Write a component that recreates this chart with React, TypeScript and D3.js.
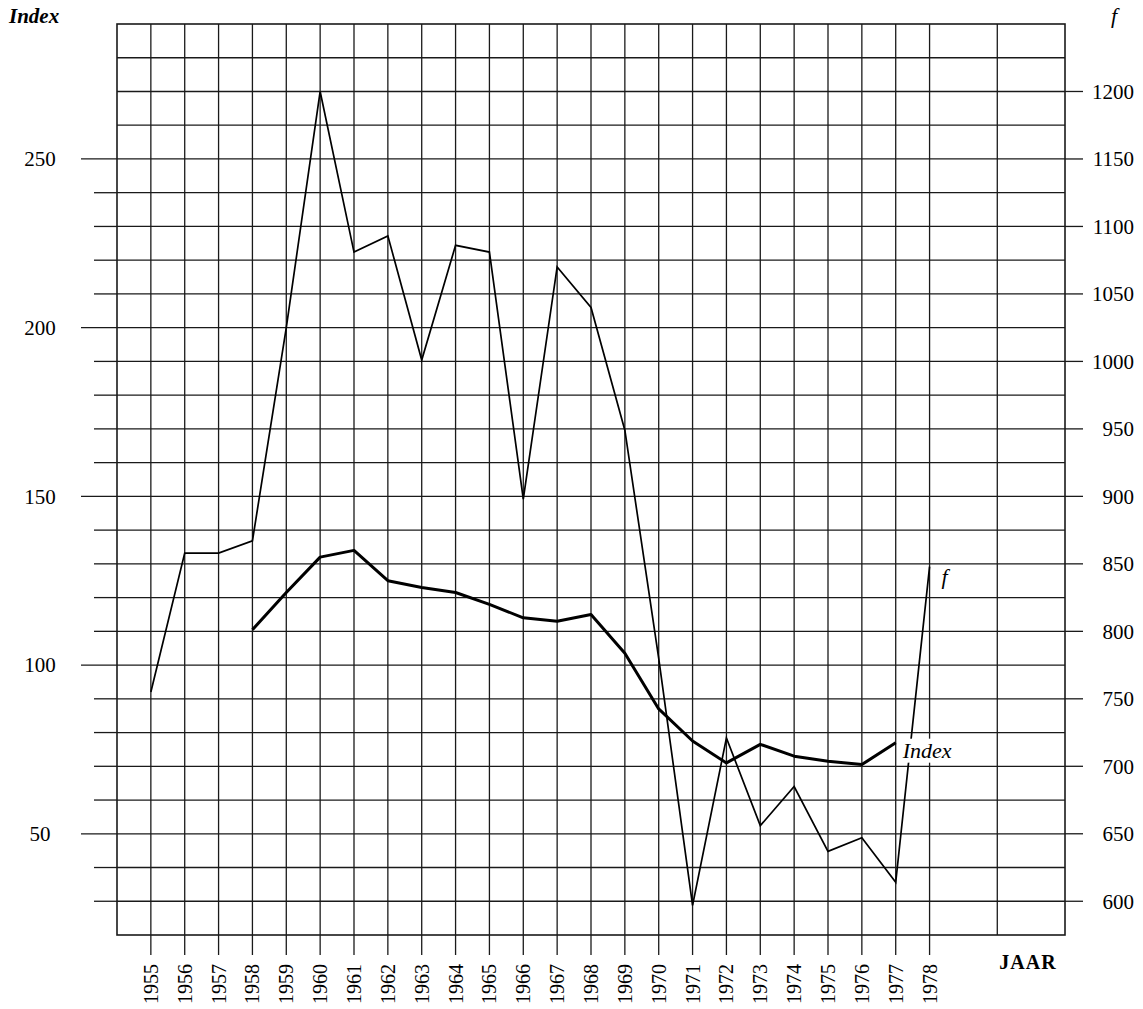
import React, { useEffect, useRef } from 'react';
import * as d3 from 'd3';

// jaar (x) en de twee reeksen
const years = [1955, 1956, 1957, 1958, 1959, 1960, 1961, 1962, 1963, 1964, 1965, 1966, 1967, 1968, 1969, 1970, 1971, 1972, 1973, 1974, 1975, 1976, 1977, 1978];
const fValues = [755, 858, 858, 867, 1025, 1200, 1081, 1093, 1001, 1086, 1081, 898, 1070, 1040, 949, 780, 597, 721, 656, 685, 637, 647, 614, 848];

const indexYears = [1958, 1959, 1960, 1961, 1962, 1963, 1964, 1965, 1966, 1967, 1968, 1969, 1970, 1971, 1972, 1973, 1974, 1975, 1976, 1977];
const indexValues = [110.5, 121.5, 132, 134, 125, 123, 121.5, 118, 114, 113, 115, 103.5, 87, 77.5, 71, 76.5, 73, 71.5, 70.5, 77];

const indexTickLabels = [50, 100, 150, 200, 250];
const fTickLabels = [600, 650, 700, 750, 800, 850, 900, 950, 1000, 1050, 1100, 1150, 1200];

const W = 1143;
const H = 1009;
const FONT = '"Liberation Serif", "DejaVu Serif", serif';

const App = () => {
  const ref = useRef<SVGSVGElement | null>(null);

  useEffect(() => {
    const svg = d3.select(ref.current);
    svg.selectAll('*').remove();

    const left = 117, right = 1065, top = 24, bottom = 935;
    const x = d3.scaleLinear().domain([1954, 1982]).range([left, right]);
    const yI = d3.scaleLinear().domain([20, 290]).range([bottom, top]);
    const yF = d3.scaleLinear().domain([575, 1250]).range([bottom, top]);

    const ink = '#1a1a1a';

    // horizontal grid (every 10 index points)
    const hLines = d3.range(30, 290, 10);
    svg.append('g')
      .selectAll('line')
      .data(hLines)
      .enter()
      .append('line')
      .attr('x1', left)
      .attr('x2', right)
      .attr('y1', d => yI(d))
      .attr('y2', d => yI(d))
      .attr('stroke', ink)
      .attr('stroke-width', 1.3);

    // vertical grid: every year + 1980
    const vLines = [...years, 1980];
    svg.append('g')
      .selectAll('line')
      .data(vLines)
      .enter()
      .append('line')
      .attr('x1', d => x(d))
      .attr('x2', d => x(d))
      .attr('y1', top)
      .attr('y2', d => (d <= 1978 ? bottom + 20 : bottom))
      .attr('stroke', ink)
      .attr('stroke-width', 1.3);

    // frame
    svg.append('rect')
      .attr('x', left)
      .attr('y', top)
      .attr('width', right - left)
      .attr('height', bottom - top)
      .attr('fill', 'none')
      .attr('stroke', ink)
      .attr('stroke-width', 1.6);

    // left ticks
    svg.append('g')
      .selectAll('line')
      .data(d3.range(30, 260, 10))
      .enter()
      .append('line')
      .attr('x1', d => (indexTickLabels.includes(d) ? left - 36 : left - 23))
      .attr('x2', left)
      .attr('y1', d => yI(d))
      .attr('y2', d => yI(d))
      .attr('stroke', ink)
      .attr('stroke-width', 1.3);

    svg.append('g')
      .selectAll('text')
      .data(indexTickLabels)
      .enter()
      .append('text')
      .attr('x', 40)
      .attr('y', d => yI(d))
      .attr('dy', '0.35em')
      .attr('text-anchor', 'middle')
      .attr('font-family', FONT)
      .attr('font-size', 21)
      .attr('fill', '#000')
      .text(d => d);

    // right ticks
    svg.append('g')
      .selectAll('line')
      .data(fTickLabels)
      .enter()
      .append('line')
      .attr('x1', right)
      .attr('x2', right + 18)
      .attr('y1', d => yF(d))
      .attr('y2', d => yF(d))
      .attr('stroke', ink)
      .attr('stroke-width', 1.3);

    svg.append('g')
      .selectAll('text')
      .data(fTickLabels)
      .enter()
      .append('text')
      .attr('x', 1134)
      .attr('y', d => yF(d))
      .attr('dy', '0.35em')
      .attr('text-anchor', 'end')
      .attr('font-family', FONT)
      .attr('font-size', 21)
      .attr('fill', '#000')
      .text(d => d);

    // year labels
    svg.append('g')
      .selectAll('text')
      .data(years)
      .enter()
      .append('text')
      .attr('transform', d => `translate(${x(d) + 7}, 964) rotate(-90)`)
      .attr('text-anchor', 'end')
      .attr('font-family', FONT)
      .attr('font-size', 20)
      .attr('fill', '#000')
      .text(d => d);

    // f line (thin)
    const lineF = d3.line<number>()
      .x((_, i) => x(years[i]))
      .y(d => yF(d));
    svg.append('path')
      .attr('d', lineF(fValues))
      .attr('fill', 'none')
      .attr('stroke', '#000')
      .attr('stroke-width', 1.7)
      .attr('stroke-linejoin', 'miter');

    // index line (thick)
    const lineI = d3.line<number>()
      .x((_, i) => x(indexYears[i]))
      .y(d => yI(d));
    svg.append('path')
      .attr('d', lineI(indexValues))
      .attr('fill', 'none')
      .attr('stroke', '#000')
      .attr('stroke-width', 3)
      .attr('stroke-linejoin', 'round');

    // inline labels
    const lastI = indexValues[indexValues.length - 1];
    const lx = x(1977) + 7;
    const ly = yI(lastI) + 8;
    svg.append('rect')
      .attr('x', lx - 3)
      .attr('y', ly - 12)
      .attr('width', 58)
      .attr('height', 24)
      .attr('fill', '#fff');
    svg.append('text')
      .attr('x', lx)
      .attr('y', ly)
      .attr('dy', '0.35em')
      .attr('font-family', FONT)
      .attr('font-style', 'italic')
      .attr('font-size', 22)
      .attr('fill', '#000')
      .text('Index');

    const lastF = fValues[fValues.length - 1];
    svg.append('text')
      .attr('x', x(1978) + 12)
      .attr('y', yF(lastF) + 10)
      .attr('dy', '0.35em')
      .attr('font-family', FONT)
      .attr('font-style', 'italic')
      .attr('font-size', 22)
      .attr('fill', '#000')
      .text('f');

    // axis titles
    svg.append('text')
      .attr('x', 9)
      .attr('y', 23)
      .attr('font-family', FONT)
      .attr('font-style', 'italic')
      .attr('font-weight', 'bold')
      .attr('font-size', 21)
      .attr('fill', '#000')
      .text('Index');

    svg.append('text')
      .attr('x', 1111)
      .attr('y', 23)
      .attr('font-family', FONT)
      .attr('font-style', 'italic')
      .attr('font-size', 22)
      .attr('fill', '#000')
      .text('f');

    svg.append('text')
      .attr('x', 1028)
      .attr('y', 969)
      .attr('text-anchor', 'middle')
      .attr('font-family', FONT)
      .attr('font-weight', 'bold')
      .attr('font-size', 20)
      .attr('letter-spacing', 1)
      .attr('fill', '#000')
      .text('JAAR');
  }, []);

  return (
    <div style={{ position: 'absolute', left: 0, top: 0, width: W, height: H, background: '#fff' }}>
      <svg ref={ref} width={W} height={H}></svg>
    </div>
  );
};

export default App;
